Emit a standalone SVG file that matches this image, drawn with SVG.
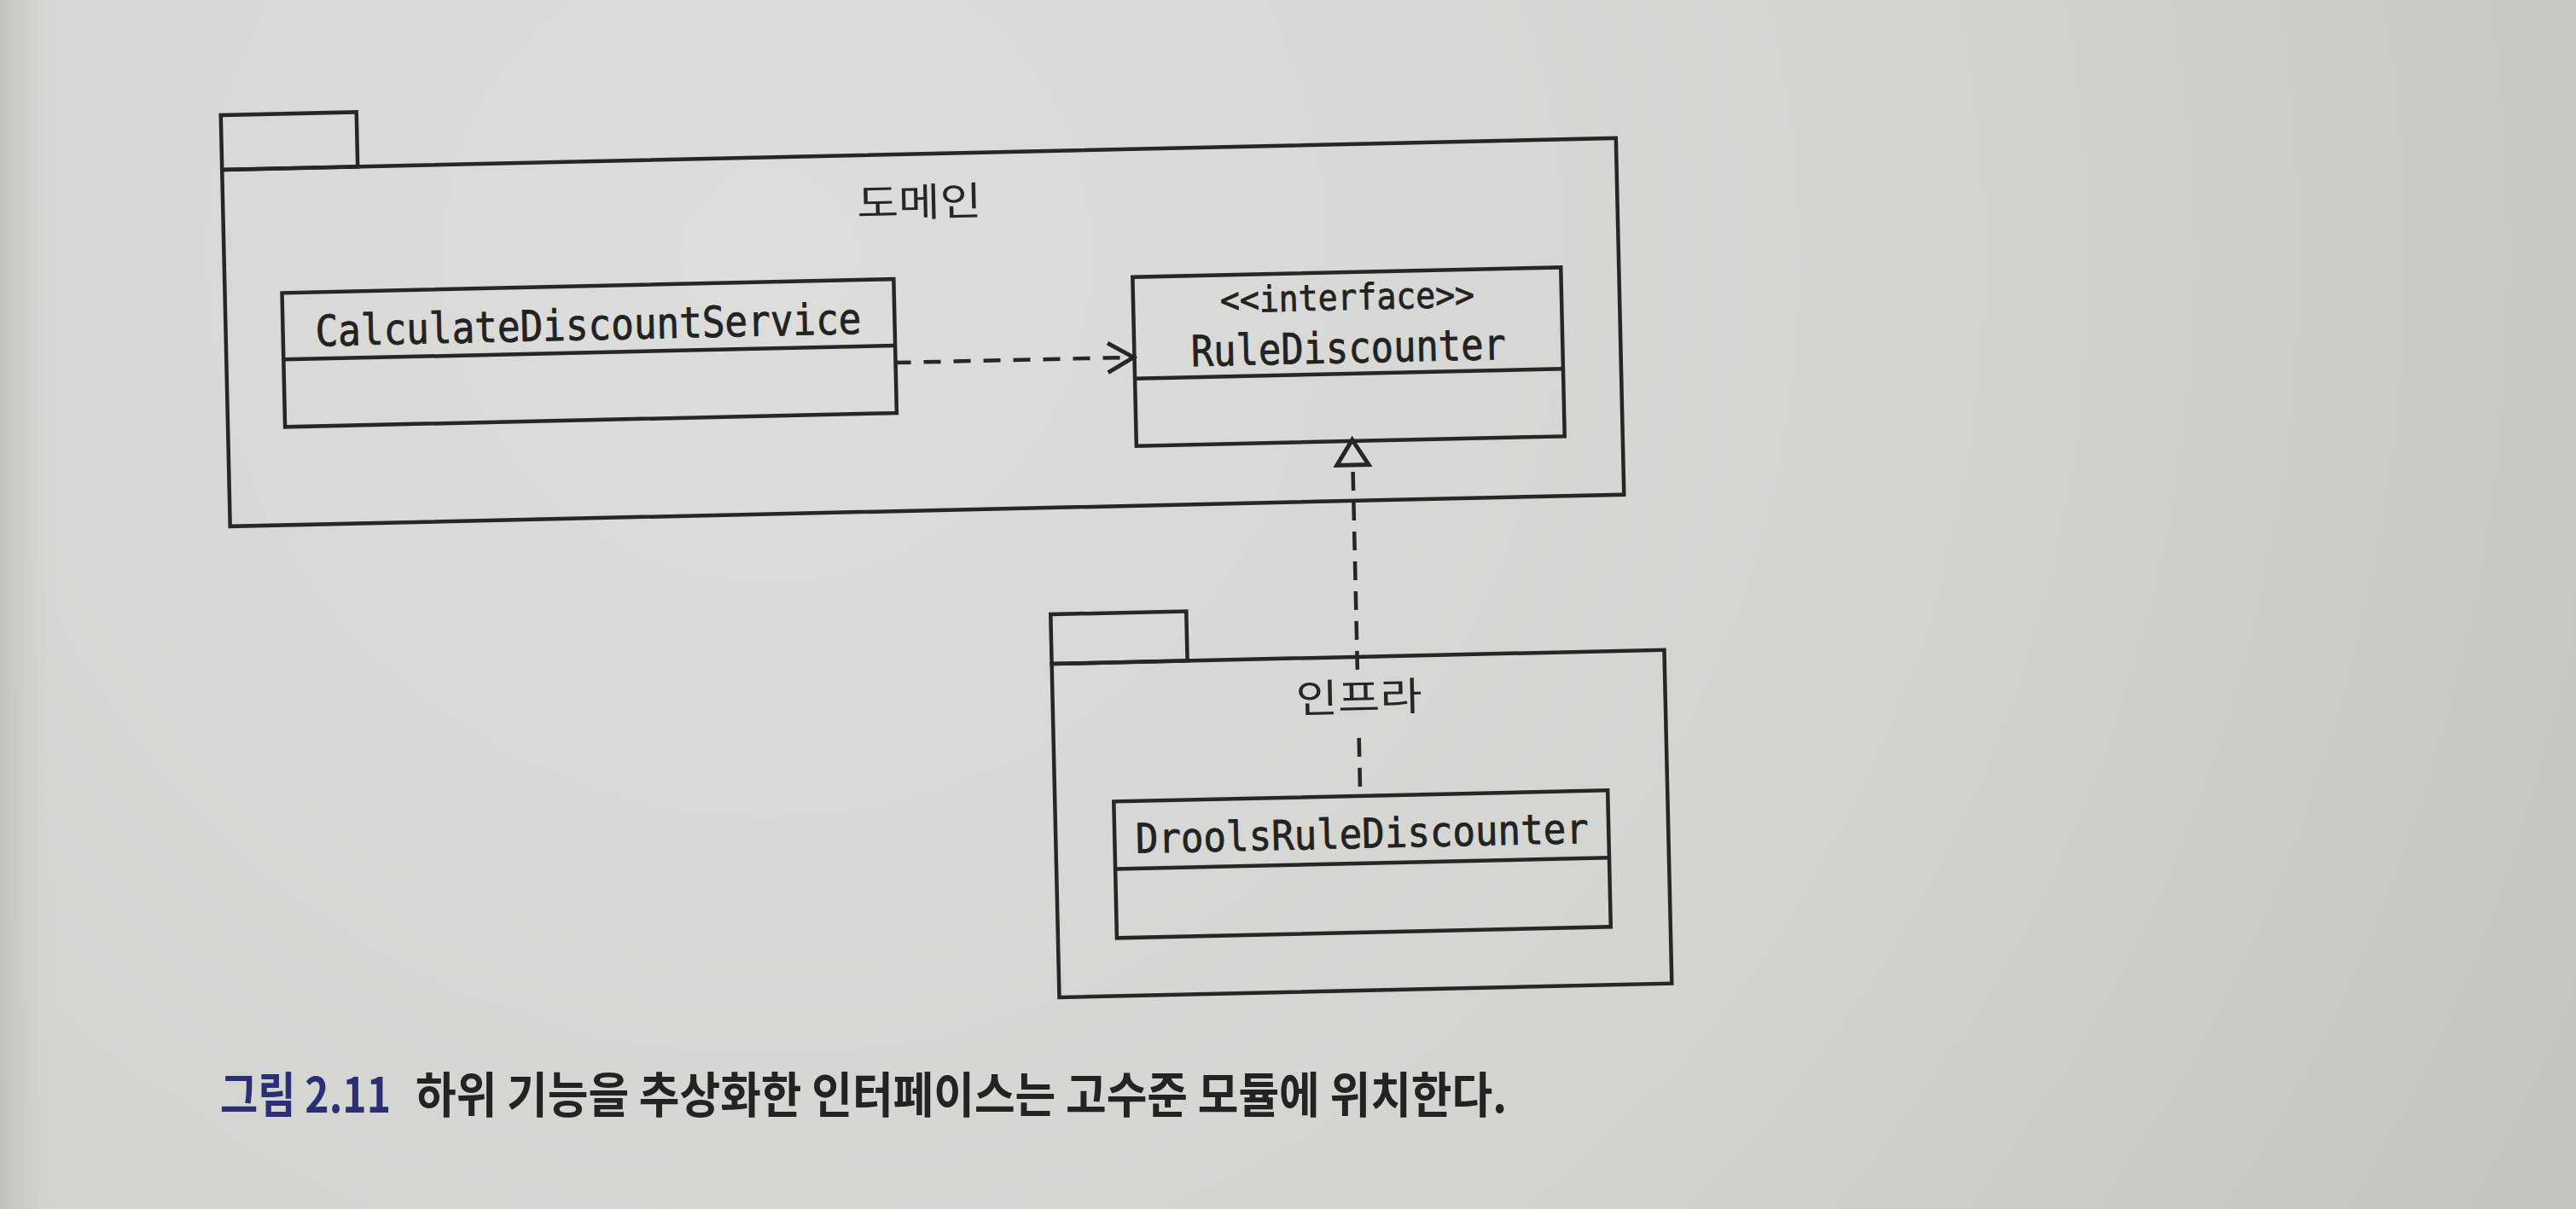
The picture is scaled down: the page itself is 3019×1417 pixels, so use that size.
<svg xmlns="http://www.w3.org/2000/svg" width="3019" height="1417" viewBox="0 0 3019 1417">
  <defs>
    <radialGradient id="paper" cx="900" cy="300" r="2300" gradientUnits="userSpaceOnUse">
      <stop offset="0" stop-color="#dddddb"/>
      <stop offset="0.6" stop-color="#d3d3d0"/>
      <stop offset="1" stop-color="#c4c4c1"/>
    </radialGradient>
    <linearGradient id="edge" x1="0" y1="0" x2="60" y2="0" gradientUnits="userSpaceOnUse">
      <stop offset="0" stop-color="#b9b9b5" stop-opacity="0.7"/>
      <stop offset="1" stop-color="#c9c9c5" stop-opacity="0"/>
    </linearGradient>
    <marker id="openArrow" markerUnits="userSpaceOnUse" markerWidth="40" markerHeight="42" viewBox="-3 -3 35 39" refX="28" refY="16" orient="auto">
      <path d="M0,0 L28,16 L0,32" fill="none" stroke="#262626" stroke-width="4.5" stroke-dasharray="none"/>
    </marker>
    <marker id="hollowTri" markerUnits="userSpaceOnUse" markerWidth="42" markerHeight="46" viewBox="-4 -4 36 42" refX="0" refY="17" orient="auto">
      <path d="M0,0 L27,17 L0,34 Z" fill="none" stroke="#262626" stroke-width="4.5" stroke-dasharray="none"/>
    </marker>
    <style>
      .pkg { fill: none; stroke: #262626; stroke-width: 4.5; }
      .cls { fill: none; stroke: #262626; stroke-width: 4.5; }
      .mono { font-family: "DejaVu Sans Mono", "Liberation Mono", monospace; fill: #222222; stroke: #222222; stroke-width: 0.8; text-anchor: middle; }
      .kr { font-family: "Noto Sans CJK KR", "Noto Sans", sans-serif; fill: #262626; text-anchor: middle; }
      .dash { fill: none; stroke: #262626; stroke-width: 4.5; }
      .cap { font-family: "Noto Sans CJK KR", "Noto Sans", sans-serif; font-weight: 700; }
    </style>
  </defs>

  <rect x="0" y="0" width="3019" height="1417" fill="url(#paper)"/>
  <rect x="0" y="0" width="60" height="1417" fill="url(#edge)"/>

  <g id="diagram" transform="rotate(-1.3 1100 620)">
    <g id="pkg-domain">
      <rect class="pkg" x="270" y="116" width="159" height="64"/>
      <rect class="pkg" x="270" y="180" width="1634" height="418"/>
      <text class="kr" x="1086" y="253" font-size="46" textLength="146" lengthAdjust="spacingAndGlyphs">도메인</text>
    </g>

    <g id="pkg-infra">
      <rect class="pkg" x="1229" y="723" width="159" height="58"/>
      <rect class="pkg" x="1229" y="781" width="718" height="391"/>
      <text class="kr" x="1588" y="845" font-size="46" textLength="148" lengthAdjust="spacingAndGlyphs">인프라</text>
    </g>

    <g id="class-CalculateDiscountService">
      <rect class="cls" x="337" y="326" width="717" height="157"/>
      <line class="cls" x1="337" y1="404" x2="1054" y2="404"/>
      <text class="mono" x="695" y="389" font-size="50" textLength="640" lengthAdjust="spacingAndGlyphs">CalculateDiscountService</text>
    </g>

    <g id="class-RuleDiscounter">
      <rect class="cls" x="1334" y="330" width="502" height="198"/>
      <line class="cls" x1="1334" y1="449" x2="1836" y2="449"/>
      <text class="mono" x="1585" y="374" font-size="42" textLength="298" lengthAdjust="spacingAndGlyphs">&lt;&lt;interface&gt;&gt;</text>
      <text class="mono" x="1585" y="436" font-size="50" textLength="369" lengthAdjust="spacingAndGlyphs">RuleDiscounter</text>
    </g>

    <g id="class-DroolsRuleDiscounter">
      <rect class="cls" x="1298" y="944" width="579" height="160"/>
      <line class="cls" x1="1298" y1="1023" x2="1877" y2="1023"/>
      <text class="mono" x="1588" y="1005" font-size="48" textLength="531" lengthAdjust="spacingAndGlyphs">DroolsRuleDiscounter</text>
    </g>

    <g id="connectors">
      <path class="dash" d="M1054,424 L1333,424" stroke-dasharray="20 15" stroke-dashoffset="2" marker-end="url(#openArrow)"/>
      <path class="dash" d="M1587,933 L1587,874" stroke-dasharray="22 13"/>
      <path class="dash" d="M1587,796 L1587,556" stroke-dasharray="22 13" marker-end="url(#hollowTri)"/>
    </g>
  </g>

  <g id="caption">
    <text class="cap" x="258" y="1304" font-size="57" fill="#2b2f78" textLength="200" lengthAdjust="spacingAndGlyphs">그림 2.11</text>
    <text class="cap" x="487" y="1304" font-size="57" fill="#232323" textLength="1279" lengthAdjust="spacingAndGlyphs">하위 기능을 추상화한 인터페이스는 고수준 모듈에 위치한다.</text>
  </g>
</svg>
